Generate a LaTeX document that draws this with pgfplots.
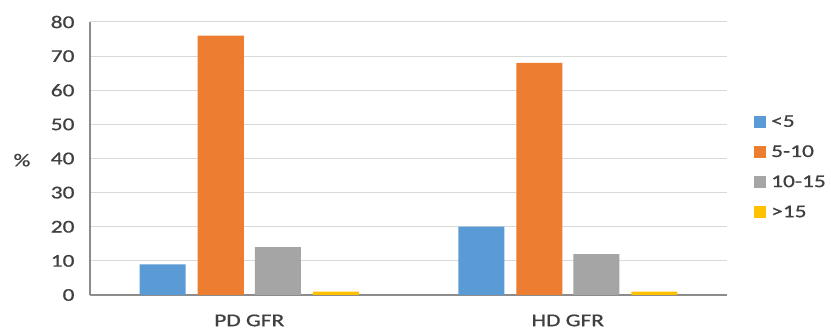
\documentclass[border=0pt]{standalone}
\usepackage{fontspec}
\setmainfont{Carlito}[FakeStretch=1.3, FakeBold=0.8]
\usepackage{pgfplots}
\pgfplotsset{compat=1.18}
\definecolor{cBlue}{HTML}{5B9BD5}
\definecolor{cOrange}{HTML}{ED7D31}
\definecolor{cGray}{HTML}{A5A5A5}
\definecolor{cYellow}{HTML}{FFC000}
\definecolor{cGrid}{HTML}{D9D9D9}
\definecolor{cAxis}{HTML}{8C8C8C}
\definecolor{cText}{HTML}{404040}
\begin{document}
\begin{tikzpicture}
\begin{axis}[
  name=ax,
  scale only axis,
  width=637bp, height=273bp,
  xmin=-0.5, xmax=1.5,
  ymin=0, ymax=80,
  ytick={0,10,...,80},
  xtick={0,1},
  xticklabels={PD GFR, HD GFR},
  font=\fontsize{18bp}{21bp}\selectfont,
  ticklabel style={text=cText},
  /pgf/number format/assume math mode=true,
  axis x line*=bottom,
  axis y line*=left,
  axis line style={cAxis, line width=1.2bp},
  ymajorgrids,
  grid style={cGrid, line width=1bp},
  major tick length=0pt,
  yticklabel style={xshift=-12bp},
  xticklabel style={yshift=-16bp},
  ylabel={\%},
  every axis y label/.style={at={(axis description cs:0,0.494)}, xshift=-68bp, anchor=center, text=cText},
  ybar,
  bar width=46bp,
  legend image code/.code={\fill[#1] (0bp,-6bp) rectangle (12bp,6bp);},
  legend style={at={(1,0.469)}, anchor=west, xshift=24bp, draw=none, fill=none,
    font=\fontsize{18bp}{21bp}\selectfont, text=cText, row sep=13bp,
    nodes={inner xsep=5bp}},
  legend cell align=left,
]
\addplot[fill=cBlue, draw=none, bar shift=-86.5bp] coordinates {(0,9) (1,20)};
\addplot[fill=cOrange, draw=none, bar shift=-28.5bp] coordinates {(0,76) (1,68)};
\addplot[fill=cGray, draw=none, bar shift=28.5bp] coordinates {(0,14) (1,12)};
\addplot[fill=cYellow, draw=none, bar shift=86.5bp] coordinates {(0,1) (1,1)};
\legend{<5, 5-10, 10-15, >15}
\end{axis}
\pgfresetboundingbox
\path (ax.south west) ++(-90bp,-38bp) rectangle ++(831bp,333bp);
\end{tikzpicture}
\end{document}
